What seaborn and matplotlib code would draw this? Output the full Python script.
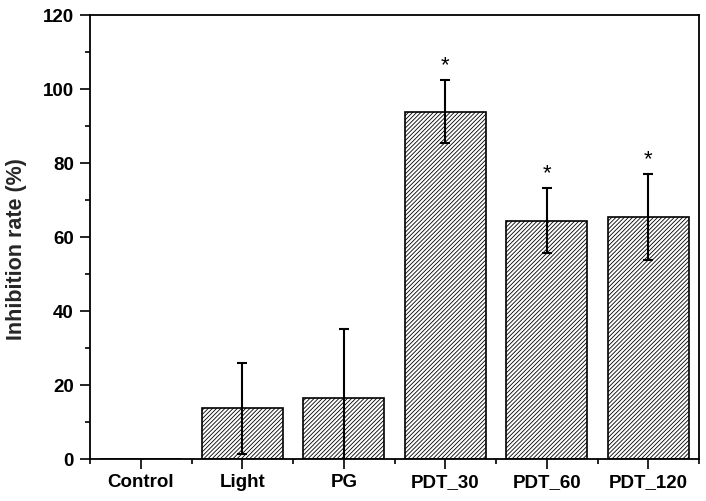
import numpy as np
import matplotlib
matplotlib.use("Agg")
import matplotlib.pyplot as plt
from matplotlib.ticker import MultipleLocator, FixedLocator
import seaborn as sns

categories = ["Control", "Light", "PG", "PDT_30", "PDT_60", "PDT_120"]
values = [0.0, 13.8, 16.6, 93.9, 64.4, 65.4]
errors = [0.0, 12.3, 18.6, 8.6, 8.8, 11.6]
marks = ["", "", "", "*", "*", "*"]

sns.set_style("ticks")
plt.rcParams["font.family"] = ["Liberation Sans", "DejaVu Sans"]
plt.rcParams["hatch.linewidth"] = 0.6
plt.rcParams["hatch.color"] = "#222222"

fig = plt.figure(figsize=(7.06, 5.01), dpi=100)
ax = fig.add_axes([90 / 706, 1 - 459.3 / 501, 609 / 706, 444.3 / 501])

sns.barplot(x=categories, y=values, color="white", edgecolor="black",
            linewidth=1.2, hatch="////////", width=0.8, errorbar=None, ax=ax)
for p in ax.patches:
    p.set_facecolor("white")
    p.set_edgecolor("black")

idx = [i for i, e in enumerate(errors) if e > 0]
ax.errorbar([i for i in idx], [values[i] for i in idx], yerr=[errors[i] for i in idx],
            fmt="none", ecolor="black", elinewidth=1.5, capsize=3.6, capthick=1.5, zorder=5)

for i, m in enumerate(marks):
    if m:
        ax.text(i, values[i] + errors[i] + 2.4, m, ha="center", va="baseline",
                fontsize=16, color="black")

ax.set_xlim(-0.5, 5.5)
ax.set_ylim(0, 120)
ax.yaxis.set_major_locator(MultipleLocator(20))
ax.yaxis.set_minor_locator(MultipleLocator(10))
ax.xaxis.set_minor_locator(FixedLocator(np.arange(-0.5, 6.0, 1.0)))

for s in ax.spines.values():
    s.set_visible(True)
    s.set_linewidth(1.3)
    s.set_color("black")

ax.tick_params(axis="both", which="major", direction="out", length=7.2, width=1.2,
               colors="black", top=False, right=False)
ax.tick_params(axis="both", which="minor", direction="out", length=3.8, width=1.2,
               colors="black", top=False, right=False)
ax.tick_params(axis="y", which="major", pad=4.5)
ax.tick_params(axis="x", which="major", pad=3.5)

for lab in ax.get_xticklabels() + ax.get_yticklabels():
    lab.set_fontsize(13.5)
    lab.set_fontweight("bold")

ax.set_xlabel("")
ax.set_ylabel("Inhibition rate (%)", fontsize=15.5, fontweight="bold")
ax.yaxis.set_label_coords(-0.103, 0.473)

fig.savefig("out.png", dpi=100)
